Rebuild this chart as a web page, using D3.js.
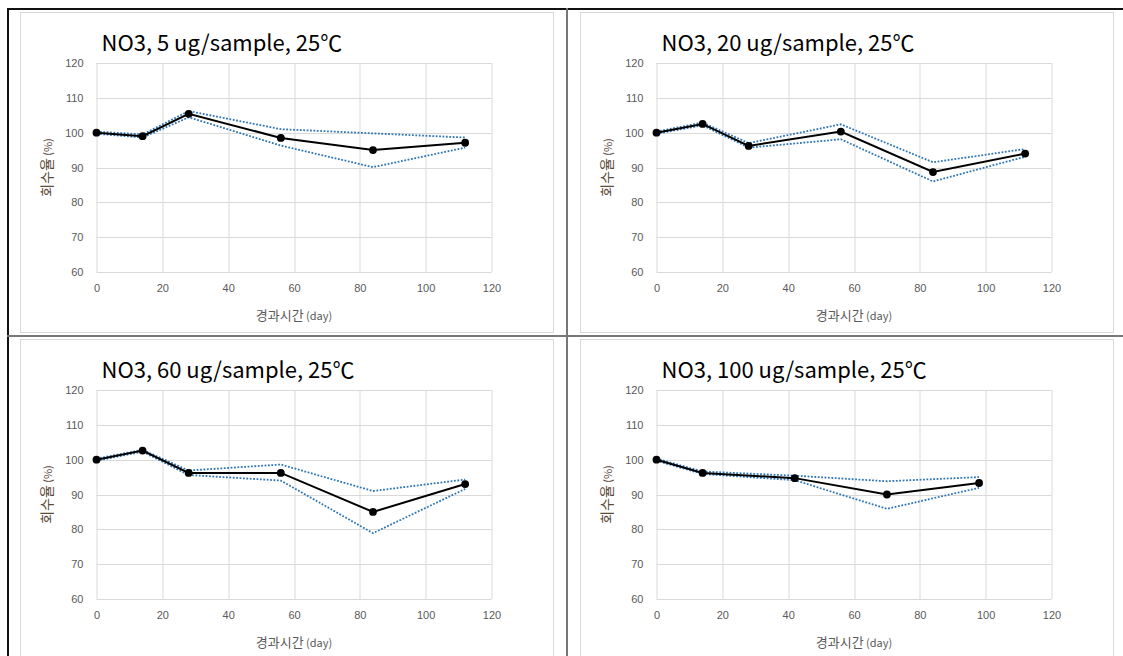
<!DOCTYPE html>
<html>
<head>
<meta charset="utf-8">
<script src="https://cdn.jsdelivr.net/npm/d3@7/dist/d3.min.js"></script>
<style>
  html, body { margin: 0; padding: 0; background: #fff; }
  svg { display: block; }
</style>
</head>
<body>
<svg id="chart" width="1123" height="656"></svg>
<script>
// Recovery (%) of NO3 over elapsed days at 25℃, four spike levels.
const titles = [
  "NO3, 5 ug/sample, 25℃",
  "NO3, 20 ug/sample, 25℃",
  "NO3, 60 ug/sample, 25℃",
  "NO3, 100 ug/sample, 25℃"
];

const days5   = [0, 14, 28, 56, 84, 112];
const mean5   = [100, 99.0, 105.4, 98.5, 95.0, 97.1];
const upper5  = [100.3, 99.5, 106.2, 101.0, 99.8, 98.6];
const lower5  = [99.7, 98.6, 104.4, 96.3, 90.1, 95.7];

const days20  = [0, 14, 28, 56, 84, 112];
const mean20  = [100, 102.5, 96.2, 100.3, 88.7, 94.0];
const upper20 = [100.3, 102.9, 97.0, 102.4, 91.5, 95.3];
const lower20 = [99.7, 102.1, 95.7, 98.1, 86.0, 93.1];

const days60  = [0, 14, 28, 56, 84, 112];
const mean60  = [100, 102.6, 96.2, 96.2, 85.0, 93.0];
const upper60 = [100.3, 102.8, 96.9, 98.6, 91.0, 94.3];
const lower60 = [99.7, 102.3, 95.6, 94.0, 78.9, 91.6];

const days100  = [0, 14, 42, 70, 98];
const mean100  = [100, 96.2, 94.7, 90.0, 93.3];
const upper100 = [100.3, 96.6, 95.4, 93.8, 95.0];
const lower100 = [99.7, 95.9, 94.1, 85.9, 91.9];

const xTicks = [0, 20, 40, 60, 80, 100, 120];
const yTicks = [60, 70, 80, 90, 100, 110, 120];

const panels = [
  { title: titles[0], days: days5,   mean: mean5,   upper: upper5,   lower: lower5 },
  { title: titles[1], days: days20,  mean: mean20,  upper: upper20,  lower: lower20 },
  { title: titles[2], days: days60,  mean: mean60,  upper: upper60,  lower: lower60 },
  { title: titles[3], days: days100, mean: mean100, upper: upper100, lower: lower100 }
];

const svg = d3.select("#chart");

// Frame boxes for each chart (top-left corner), plot area offsets inside them
const frames = [
  { x: 20,  y: 12 },
  { x: 580, y: 12 },
  { x: 20,  y: 339 },
  { x: 580, y: 339 }
];
const frameW = 533, frameH = 320;
const plotOffX = 76.5, plotOffY = 51;
const plotW = 395, plotH = 209;

const tickColor = "#595959";
const gridColor = "#d9d9d9";
const lineBlue = "#2e75b6";

panels.forEach((p, i) => {
  const f = frames[i];
  const g = svg.append("g").attr("transform", `translate(${f.x},${f.y})`);

  g.append("rect")
    .attr("x", 0.5).attr("y", 0.5)
    .attr("width", frameW).attr("height", frameH)
    .attr("fill", "#fff")
    .attr("stroke", gridColor).attr("stroke-width", 1);

  const x = d3.scaleLinear().domain([0, 120]).range([0, plotW]);
  const y = d3.scaleLinear().domain([60, 120]).range([plotH, 0]);

  const plot = g.append("g").attr("transform", `translate(${plotOffX},${plotOffY})`);

  // gridlines
  plot.append("g")
    .selectAll("line.h")
    .data(yTicks)
    .join("line")
    .attr("x1", 0).attr("x2", plotW)
    .attr("y1", d => Math.round(y(d)) + 0.5).attr("y2", d => Math.round(y(d)) + 0.5)
    .attr("stroke", gridColor).attr("stroke-width", 1);
  plot.append("g")
    .selectAll("line.v")
    .data(xTicks)
    .join("line")
    .attr("y1", 0).attr("y2", plotH)
    .attr("x1", d => Math.round(x(d)) + 0.5).attr("x2", d => Math.round(x(d)) + 0.5)
    .attr("stroke", gridColor).attr("stroke-width", 1);

  // axes (labels only)
  const yAxis = plot.append("g")
    .call(d3.axisLeft(y).tickValues(yTicks).tickSize(0).tickPadding(13));
  const xAxis = plot.append("g")
    .attr("transform", `translate(0,${plotH})`)
    .call(d3.axisBottom(x).tickValues(xTicks).tickSize(0).tickPadding(12));
  [xAxis, yAxis].forEach(a => {
    a.select(".domain").remove();
    a.selectAll("text")
      .attr("fill", tickColor)
      .style("font-family", "Liberation Sans, Arial, sans-serif")
      .style("font-size", "11px");
  });

  // series
  const pts = p.days.map((d, k) => ({ d, m: p.mean[k], u: p.upper[k], l: p.lower[k] }));
  const line = key => d3.line().x(o => x(o.d)).y(o => y(o[key]));

  ["u", "l"].forEach(key => {
    plot.append("path")
      .datum(pts)
      .attr("d", line(key))
      .attr("fill", "none")
      .attr("stroke", lineBlue)
      .attr("stroke-width", 1.8)
      .attr("stroke-dasharray", "1.8,1.6");
  });

  plot.append("path")
    .datum(pts)
    .attr("d", line("m"))
    .attr("fill", "none")
    .attr("stroke", "#000")
    .attr("stroke-width", 2);

  plot.selectAll("circle")
    .data(pts)
    .join("circle")
    .attr("cx", o => x(o.d))
    .attr("cy", o => y(o.m))
    .attr("r", 3.9)
    .attr("fill", "#000");

  // title
  g.append("text")
    .attr("x", plotOffX + 5)
    .attr("y", 39)
    .attr("fill", "#000")
    .style("font-family", "Noto Sans CJK KR, Noto Sans, sans-serif")
    .style("font-size", "22px")
    .text(p.title);

  // x axis title
  const xt = g.append("text")
    .attr("x", plotOffX + plotW / 2)
    .attr("y", plotOffY + plotH + 48)
    .attr("text-anchor", "middle")
    .attr("fill", tickColor)
    .style("font-family", "Noto Sans CJK KR, sans-serif");
  xt.append("tspan").style("font-size", "13px").text("경과시간");
  xt.append("tspan").style("font-size", "11px").text(" (day)");

  // y axis title
  const yt = g.append("text")
    .attr("transform", `translate(32,${plotOffY + plotH / 2}) rotate(-90)`)
    .attr("text-anchor", "middle")
    .attr("fill", "#5a4a3a")
    .style("font-family", "Noto Sans CJK KR, sans-serif");
  yt.append("tspan").style("font-size", "14px").text("회수율");
  yt.append("tspan").style("font-size", "11px").text(" (%)");
});

// table borders
svg.append("line").attr("x1", 7).attr("x2", 1123).attr("y1", 9).attr("y2", 9)
  .attr("stroke", "#111").attr("stroke-width", 2);
svg.append("line").attr("x1", 8).attr("x2", 8).attr("y1", 8).attr("y2", 656)
  .attr("stroke", "#111").attr("stroke-width", 2);
svg.append("line").attr("x1", 567).attr("x2", 567).attr("y1", 8).attr("y2", 656)
  .attr("stroke", "#777").attr("stroke-width", 2);
svg.append("line").attr("x1", 7).attr("x2", 1123).attr("y1", 336).attr("y2", 336)
  .attr("stroke", "#777").attr("stroke-width", 2);
</script>
</body>
</html>
